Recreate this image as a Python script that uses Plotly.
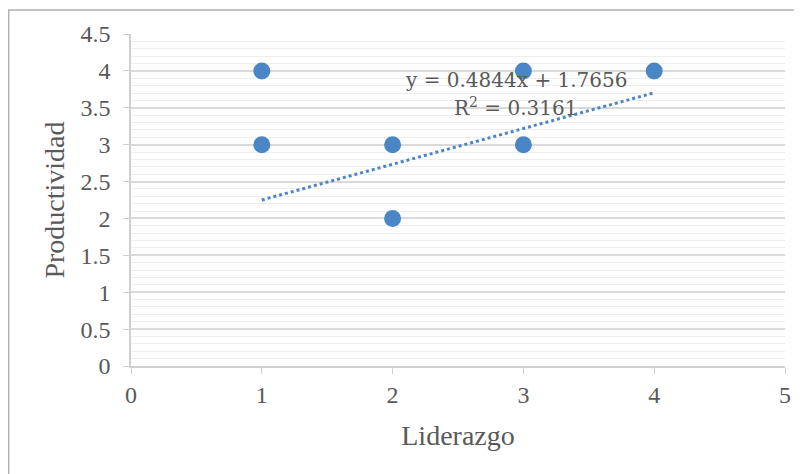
import plotly.graph_objects as go

liderazgo = [1, 1, 2, 2, 3, 3, 4]
productividad = [4, 3, 3, 2, 4, 3, 4]
slope = 0.4844
intercept = 1.7656
r2 = 0.3161
trend_x = [1, 4]
trend_y = [slope * x + intercept for x in trend_x]

blue = "#4a86c6"
serif = "Liberation Serif, Times New Roman, serif"
fig = go.Figure()
fig.add_trace(go.Scatter(x=trend_x, y=trend_y, mode="lines",
                         line=dict(color="#4a86c6", width=3, dash="dot"),
                         hoverinfo="skip"))
fig.add_trace(go.Scatter(x=liderazgo, y=productividad, mode="markers",
                         marker=dict(color=blue, size=17, line=dict(width=0))))

fig.add_annotation(x=2.94, y=3.88, xref="x", yref="y", showarrow=False,
                   text=f"y = {slope}x + {intercept}",
                   font=dict(family="DejaVu Serif", size=20, color="#595959"))
fig.add_annotation(x=2.94, y=3.51, xref="x", yref="y", showarrow=False,
                   text=f"R<sup>2</sup> = {r2}",
                   font=dict(family="DejaVu Serif", size=20, color="#595959"))

fig.add_shape(type="rect", xref="paper", yref="paper",
              x0=-0.187, x1=1.1, y0=-0.4, y1=1.072,
              line=dict(color="#b0b0b0", width=1.5), layer="below")

fig.update_layout(
    width=794, height=466,
    margin=dict(l=123, r=17, t=26, b=108),
    paper_bgcolor="white", plot_bgcolor="white",
    showlegend=False,
    font=dict(family=serif, color="#595959", size=24),
)
fig.update_xaxes(range=[0, 5], dtick=1, showgrid=False, zeroline=False,
                 showline=True, linecolor="#d0d0d0", linewidth=1.5,
                 ticks="outside", ticklen=6, tickcolor="#d0d0d0",
                 tickfont=dict(size=24, family=serif, color="#595959"),
                 title=dict(text="Liderazgo", font=dict(size=28, family=serif, color="#595959"), standoff=19))
fig.update_yaxes(range=[0, 4.5], dtick=0.5, showgrid=True, gridcolor="#d9d9d9", gridwidth=1.5,
                 zeroline=False, showline=True, linecolor="#d0d0d0", linewidth=1.5,
                 ticks="outside", ticklen=6, tickcolor="#d0d0d0", ticklabelstandoff=8,
                 minor=dict(dtick=0.1, showgrid=True, gridcolor="#eeeeee", gridwidth=1),
                 tickfont=dict(size=24, family=serif, color="#595959"),
                 title=dict(text="Productividad", font=dict(size=28, family=serif, color="#595959"), standoff=8))

fig.write_html("out.html")
